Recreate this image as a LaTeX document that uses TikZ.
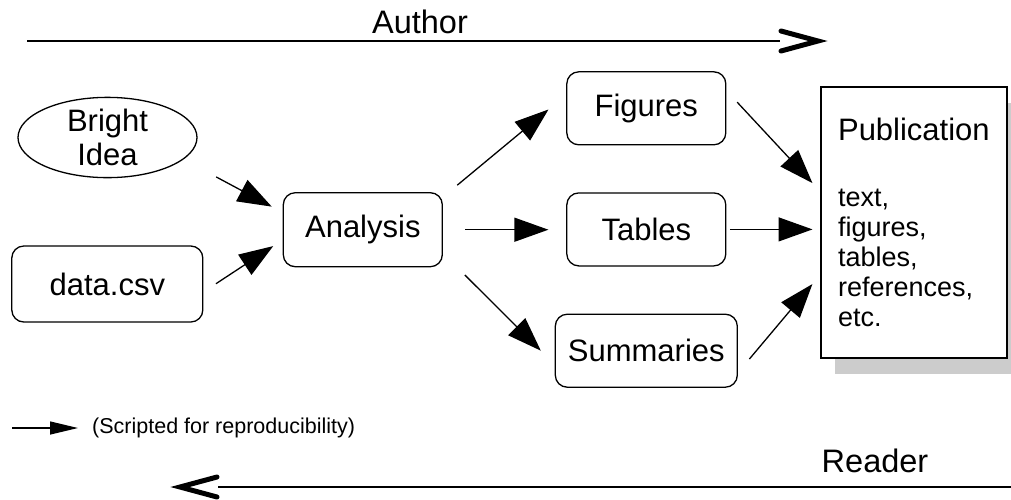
\documentclass[tikz,border=0pt]{standalone}
\usepackage{fontspec}
\setmainfont{Liberation Sans}
\usetikzlibrary{arrows.meta,shapes.geometric,shadows}

\begin{document}
\begin{tikzpicture}[x=1pt,y=-1pt,
    box/.style={draw,rounded corners=12pt,line width=1.3pt,inner sep=0pt,outer sep=0pt,
        font=\fontsize{31}{34}\selectfont},
    flow/.style={line width=1.3pt,-{Triangle[length=34pt,width=24pt]}},
    chevron/.style={line width=5pt,line join=miter,line cap=round},
    role/.style={font=\fontsize{32.5}{33}\selectfont}]
    \useasboundingbox (0,0) rectangle (1011,499);

    % sources
    \node[draw,ellipse,line width=1.3pt,inner sep=0pt,outer sep=0pt,minimum width=179pt,
        minimum height=79pt,align=center,font=\fontsize{31}{34}\selectfont]
        (idea) at (107.5,137.5) {Bright\\Idea};
    \node[box,minimum width=191pt,minimum height=76pt] (data) at (107.3,284) {data.csv};
    \node[box,minimum width=159pt,minimum height=74pt] (ana) at (362.8,229.7) {Analysis};

    % products
    \node[box,minimum width=159pt,minimum height=73pt] (fig) at (646.3,108.3) {Figures};
    \node[box,minimum width=159pt,minimum height=73pt] (tab) at (646.3,229.4) {Tables};
    \node[box,minimum width=182pt,minimum height=73pt] (sum) at (646.3,350.7) {Summaries};

    \node[draw,fill=white,line width=1.3pt,inner sep=0pt,outer sep=0pt,
        minimum width=186pt,minimum height=271pt,align=left,
        drop shadow={shadow xshift=14.5pt,shadow yshift=-16.5pt,fill=black!20,opacity=1},
        font=\fontsize{27}{30}\selectfont]
        (pub) at (913.9,222.4)
        {{\fontsize{31}{34}\selectfont Publication}\\[36pt]text,\\figures,\\tables,\\references,\\etc.};

    \draw[flow,shorten <=37.8pt,shorten >=13.1pt] (idea.-16.6) -- (ana.168.4);
    \draw[flow,shorten <=15.7pt,shorten >=12.1pt] (data.-5.3) -- (ana.-173.9);
    \draw[flow,shorten <=19.4pt,shorten >=23.8pt] (ana.22.2) -- (fig.170.4);
    \draw[flow,shorten <=22.7pt,shorten >=18.4pt] (ana.east) -- (ana.east -| tab.west);
    \draw[flow,shorten <=31.9pt,shorten >=20.5pt] (ana.-16.7) -- (sum.-171);
    \draw[flow,shorten <=16.7pt,shorten >=12.4pt] (fig.13.1) -- (pub.162.6);
    \draw[flow,shorten <=4pt,shorten >=8.4pt] (tab.east) -- (tab.east -| pub.west);
    \draw[flow,shorten <=18.8pt,shorten >=13.2pt] (sum.-14.1) -- (pub.-151.7);

    % legend
    \node[anchor=west,inner sep=0pt,font=\fontsize{21.5}{22}\selectfont]
        (legend) at (92,428) {(Scripted for reproducibility)};
    \coordinate (legstart) at (12,428);
    \draw[line width=1.3pt,-{Triangle[length=28pt,width=13pt]},shorten >=14pt]
        (legstart) -- (legend.west);

    % author and reader
    \node[role] (author) at (420,22) {Author};
    \coordinate (authL) at (27,41);
    \coordinate (authR) at (780,41);
    \draw[line width=1.3pt] (authL) -- (authR);
    \draw[chevron] ([shift={(1,-10)}]authR) -- ([shift={(38,0)}]authR)
        -- ([shift={(1,10)}]authR);

    \node[role] (reader) at (875,461) {Reader};
    \coordinate (readL) at (218,487);
    \coordinate (readR) at (1011,487);
    \draw[line width=1.3pt] (readR) -- (readL);
    \draw[chevron] ([shift={(-1,-10)}]readL) -- ([shift={(-38,0)}]readL)
        -- ([shift={(-1,10)}]readL);
\end{tikzpicture}
\end{document}
